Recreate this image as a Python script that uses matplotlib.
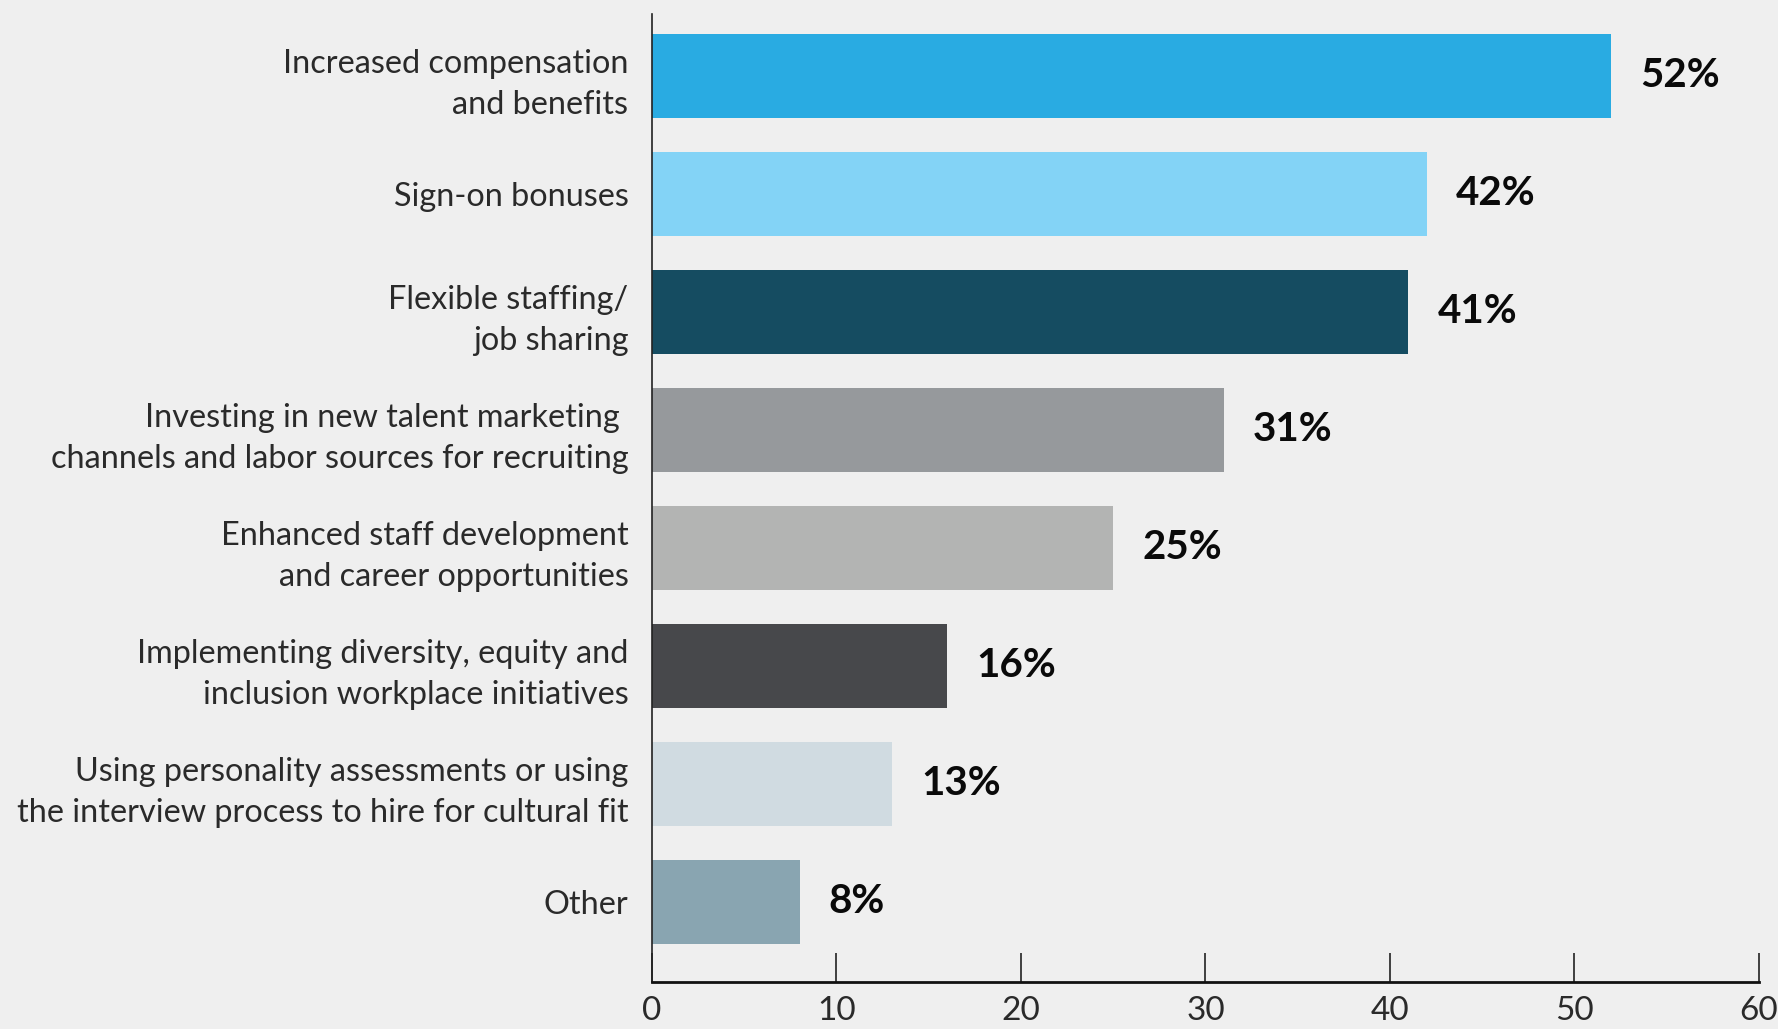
import matplotlib
matplotlib.use("Agg")
import matplotlib.pyplot as plt

# Recruitment and retention strategies, share of respondents (%)
categories = [
    "Increased compensation\nand benefits",
    "Sign-on bonuses",
    "Flexible staffing/\njob sharing",
    "Investing in new talent marketing \nchannels and labor sources for recruiting",
    "Enhanced staff development\nand career opportunities",
    "Implementing diversity, equity and\ninclusion workplace initiatives",
    "Using personality assessments or using\nthe interview process to hire for cultural fit",
    "Other",
]
values = [52, 42, 41, 31, 25, 16, 13, 8]
value_labels = ["52%", "42%", "41%", "31%", "25%", "16%", "13%", "8%"]
bar_colors = ["#29ABE2", "#83D3F6", "#154C61", "#96999C",
              "#B3B4B3", "#47484B", "#D0DBE1", "#89A5B1"]
x_ticks = [0, 10, 20, 30, 40, 50, 60]

bg = "#EFEFEF"
plt.rcParams["font.family"] = ["Lato", "DejaVu Sans"]

fig = plt.figure(figsize=(17.78, 10.29), dpi=100, facecolor=bg)
ax = fig.add_axes([0.3667, 0.0457, 0.6226, 0.9403], facecolor=bg)

positions = list(range(len(categories)))
ax.barh(positions, values, height=0.71, color=bar_colors, zorder=2)

for y, v, lab in zip(positions, values, value_labels):
    ax.annotate(lab, xy=(v, y), xytext=(21, 0), textcoords="offset points",
                ha="left", va="center", fontsize=29, fontweight="bold",
                color="#0A0A0A")

ax.set_xlim(0, 60)
ax.set_ylim(7.68, -0.52)
ax.set_xticks(x_ticks)
ax.set_xticklabels([str(t) for t in x_ticks], fontsize=24, fontweight="normal",
                   color="#2A2A2A")
ax.set_yticks(positions)
ax.set_yticklabels(categories, fontsize=23.3, fontweight="normal",
                   color="#2A2A2A", linespacing=1.45)

ax.tick_params(axis="x", direction="in", length=21, width=1.2,
               color="#222222", pad=10)
ax.tick_params(axis="y", length=0, pad=17)

for side in ("top", "right"):
    ax.spines[side].set_visible(False)
ax.spines["left"].set_color("#222222")
ax.spines["left"].set_linewidth(1.2)
ax.spines["bottom"].set_color("#111111")
ax.spines["bottom"].set_linewidth(2.0)

fig.savefig("out.png", dpi=100, facecolor=bg)
